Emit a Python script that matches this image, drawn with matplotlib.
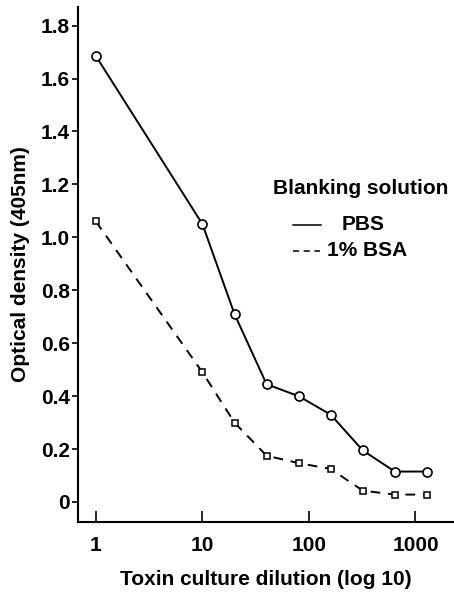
import matplotlib.pyplot as plt
from matplotlib.lines import Line2D

plt.rcParams['font.family'] = ['Liberation Sans', 'DejaVu Sans']
plt.rcParams['font.weight'] = 'bold'

dilution = [1, 10, 20, 40, 80, 160, 320, 640, 1280]
pbs = [1.685, 1.05, 0.71, 0.445, 0.40, 0.33, 0.195, 0.115, 0.115]
bsa = [1.06, 0.49, 0.30, 0.175, 0.147, 0.125, 0.043, 0.028, 0.028]

fig = plt.figure(figsize=(4.54, 5.93), dpi=100)
ax = fig.add_axes([0.172, 0.120, 0.828, 0.868])

ax.plot(dilution, pbs, '-', color='black', lw=1.4, marker='o', ms=6.5,
        mfc='white', mec='black', mew=1.2)
ax.plot(dilution, bsa, '--', color='black', lw=1.4, dashes=(5, 4), marker='s', ms=3.8,
        mfc='white', mec='black', mew=1.1)

ax.set_xscale('log')
ax.set_xlim(0.68, 2300)
ax.set_ylim(-0.075, 1.87)
ax.set_xticks([1, 10, 100, 1000])
ax.set_xticklabels(['1', '10', '100', '1000'])
ax.xaxis.set_minor_locator(plt.NullLocator())
ax.set_yticks([0, 0.2, 0.4, 0.6, 0.8, 1.0, 1.2, 1.4, 1.6, 1.8])
ax.set_yticklabels(['0', '0.2', '0.4', '0.6', '0.8', '1.0', '1.2', '1.4', '1.6', '1.8'])

fs = 15
ax.tick_params(axis='x', direction='in', length=8, width=1.2, labelsize=fs, pad=10)
ax.tick_params(axis='y', direction='out', length=4, width=1.2, labelsize=fs, pad=2)
for s in ['top', 'right']:
    ax.spines[s].set_visible(False)
for s in ['left', 'bottom']:
    ax.spines[s].set_linewidth(1.5)

ax.set_xlabel('Toxin culture dilution (log 10)', fontsize=fs, fontweight='bold', labelpad=11)
ax.set_ylabel('Optical density (405nm)', fontsize=fs, fontweight='bold', labelpad=8)

# legend drawn by hand
fig.text(361 / 454, 1 - 188 / 593, 'Blanking solution', fontsize=fs, fontweight='bold',
         ha='center', va='center')
fig.text(342 / 454, 1 - 225 / 593, 'PBS', fontsize=fs, fontweight='bold', ha='left', va='center')
fig.text(327 / 454, 1 - 251 / 593, '1% BSA', fontsize=fs, fontweight='bold', ha='left', va='center')
fig.add_artist(Line2D([293 / 454, 321 / 454], [1 - 225 / 593] * 2, color='black', lw=1.1,
                      transform=fig.transFigure))
fig.add_artist(Line2D([293 / 454, 320 / 454], [1 - 251 / 593] * 2, color='black', lw=1.1,
                      ls=(0, (4, 3)), transform=fig.transFigure))

fig.savefig('out.png', dpi=100)
